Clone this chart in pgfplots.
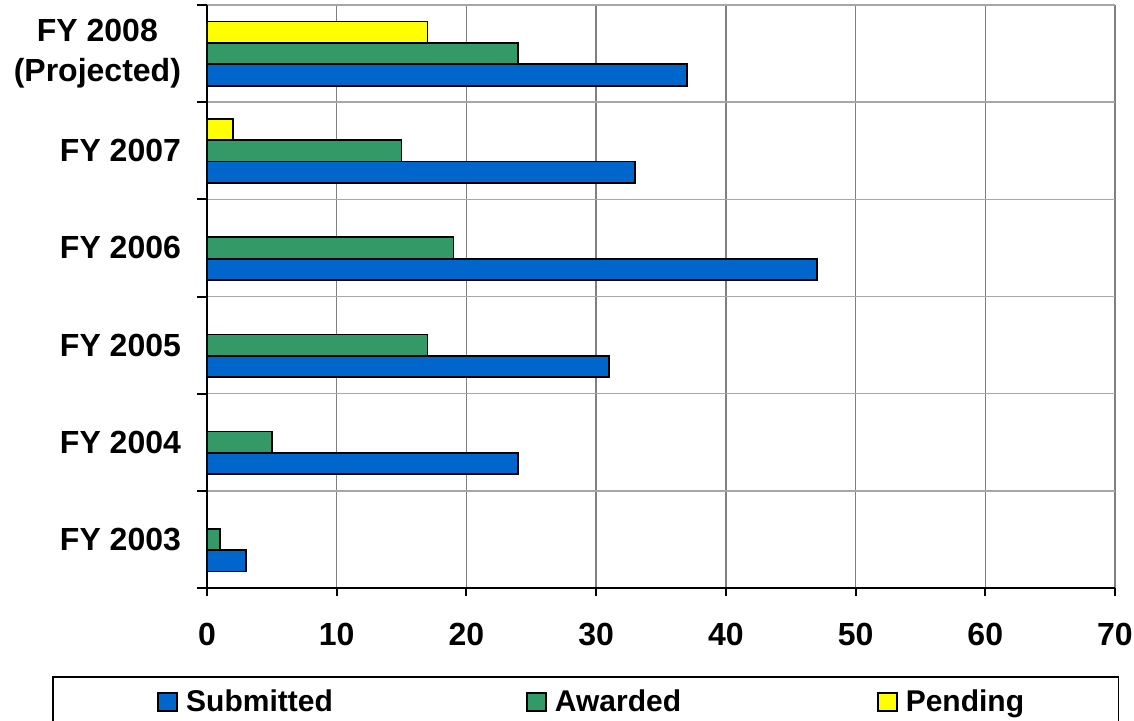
\documentclass[border=0pt]{standalone}
\usepackage{pgfplots}
\pgfplotsset{compat=1.18}
\usepackage{fontspec}
\setmainfont{Liberation Sans}
\definecolor{subblue}{HTML}{0066CC}
\definecolor{awgreen}{HTML}{339966}
\definecolor{penyellow}{HTML}{FFFF00}
\pgfplotsset{sqlegend/.style={legend image code/.code={\draw[##1] (0pt,-4.65pt) rectangle (9.5pt,4.65pt);}}}

\begin{document}
\begin{tikzpicture}
\begin{axis}[
    at={(0,0)}, anchor=south west,
    scale only axis, width=454pt, height=291.5pt,
    xbar, bar width=0.22,
    xmin=0, xmax=70, ymin=-0.5, ymax=5.5,
    xtick={0,10,...,70},
    ytick={0,...,5},
    yticklabels={FY 2003, FY 2004, FY 2005, FY 2006, FY 2007, {FY 2008\\(Projected)}},
    minor ytick={-0.5,0.5,...,5.5},
    axis x line*=bottom, axis y line*=left,
    axis line style={black, line width=1pt},
    tick align=outside,
    major tick length=4pt, minor tick length=5pt,
    major y tick style={draw=none},
    minor y tick style={black, line width=1pt},
    x tick style={black, line width=1pt},
    xmajorgrids, yminorgrids,
    major x grid style={black!50, line width=0.7pt},
    minor y grid style={black!35, line width=0.7pt},
    tick label style={font=\fontsize{16}{20}\selectfont\bfseries},
    /pgf/number format/assume math mode=true,
    yticklabel style={align=center, xshift=-5.5pt},
    xticklabel style={yshift=-10pt},
    legend columns=3,
    legend cell align=left,
    legend style={at={(axis description cs:-0.0551,-0.1955)}, anchor=west,
        draw=none, fill=none, inner sep=0pt,
        font=\fontsize{15}{18}\selectfont\bfseries,
        /tikz/every even column/.append style={column sep=0pt}},
]
\addplot[draw=black, line width=0.9pt, fill=subblue, bar shift=-0.22, sqlegend]
    coordinates {(3,0) (24,1) (31,2) (47,3) (33,4) (37,5)};
\addlegendentry{\makebox[170pt][l]{\hspace{2pt}Submitted}}
\addplot[draw=black, line width=0.9pt, fill=awgreen, bar shift=0, sqlegend]
    coordinates {(1,0) (5,1) (17,2) (19,3) (15,4) (24,5)};
\addlegendentry{\makebox[161pt][l]{\hspace{2pt}Awarded}}
\addplot[draw=black, line width=0.9pt, fill=penyellow, bar shift=0.22, sqlegend]
    coordinates {(2,4) (17,5)};
\addlegendentry{\hspace{2pt}Pending}
\end{axis}
% legend frame, its lower edge runs past the bottom of the picture
\draw[line width=0.8pt] (-76.85pt,-44.35pt) rectangle (455.65pt,-80pt);
\pgfresetboundingbox
\useasboundingbox (-103.5pt,-66pt) rectangle (463.5pt,294pt);
\end{tikzpicture}
\end{document}
